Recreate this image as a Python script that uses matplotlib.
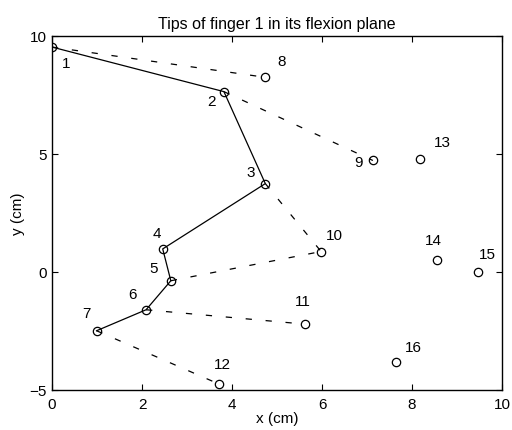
import matplotlib
matplotlib.use("Agg")
import matplotlib.pyplot as plt

plt.rcParams["font.family"] = ["Liberation Sans", "DejaVu Sans"]

# tip positions (cm), numbered 1..16
labels = [str(i) for i in range(1, 17)]
xs = [0.00, 3.82, 4.74, 2.46, 2.64, 2.09, 0.99, 4.73, 7.13, 5.98, 5.62, 3.71, 8.18, 8.56, 9.46, 7.64]
ys = [9.53, 7.64, 3.74, 0.97, -0.38, -1.61, -2.50, 8.25, 4.72, 0.86, -2.22, -4.76, 4.79, 0.50, 0.00, -3.84]

# solid chain and dashed links (1-based point numbers)
chain = [1, 2, 3, 4, 5, 6, 7]
links = [(1, 8), (2, 9), (3, 10), (5, 10), (6, 11), (7, 12)]

# label offsets in pixels
offsets = [(14, -16), (-12, -9), (-15, 12), (-6, 16), (-17, 13), (-14, 16), (-10, 18),
           (17, 16), (-14, -2), (13, 17), (-2, 23), (3, 20), (22, 17), (-4, 20),
           (10, 18), (18, 15)]

fig = plt.figure(figsize=(5.12, 4.31), dpi=100)
ax = fig.add_axes([0.1016, 0.0935, 0.8789, 0.8207])

for a, b in links:
    ax.plot([xs[a - 1], xs[b - 1]], [ys[a - 1], ys[b - 1]], color="black",
            lw=0.9, linestyle=(0, (5, 11)))
ax.plot([xs[i - 1] for i in chain], [ys[i - 1] for i in chain], color="black", lw=0.9)
ax.plot(xs, ys, linestyle="none", marker="o", mfc="none", mec="black", ms=6, mew=0.9)

for lab, x, y, (dx, dy) in zip(labels, xs, ys, offsets):
    ax.annotate(lab, (x, y), xytext=(dx, dy), textcoords="offset pixels",
                ha="center", va="center", fontsize=11)

ax.set_xlim(0, 10)
ax.set_ylim(-5, 10)
ax.set_xticks([0, 2, 4, 6, 8, 10])
ax.set_yticks([-5, 0, 5, 10])
ax.tick_params(direction="in", top=True, right=True, labelsize=11, length=4)
ax.tick_params(axis="x", pad=5)
ax.tick_params(axis="y", pad=4)
for s in ax.spines.values():
    s.set_linewidth(1.0)
ax.set_xlabel("x (cm)", fontsize=11, labelpad=0)
ax.set_ylabel("y (cm)", fontsize=11, labelpad=3)
ax.set_title("Tips of finger 1 in its flexion plane", fontsize=11.5, pad=6)

fig.savefig("out.png", dpi=100)
